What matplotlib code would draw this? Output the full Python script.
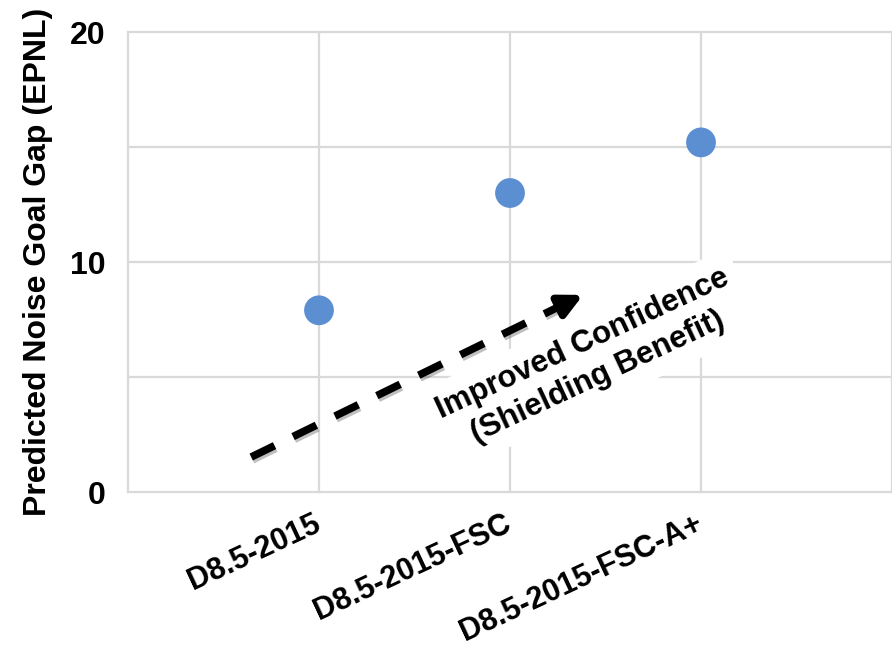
import matplotlib
matplotlib.use("Agg")
import matplotlib.pyplot as plt
import matplotlib.patheffects as pe
import numpy as np

plt.rcParams['font.family'] = ['Liberation Sans', 'DejaVu Sans']
plt.rcParams['font.weight'] = 'bold'

# data
configs = ['D8.5-2015', 'D8.5-2015-FSC', 'D8.5-2015-FSC-A+']
noise_gap = [7.9, 13.0, 15.2]
y_major = [0, 10, 20]
y_minor = [5, 15]

# annotation arrow (data coords)
arrow_start = (0.645, 1.52)
arrow_end = (2.383, 8.57)
note_pos = (2.42, 5.72)
note_text = 'Improved Confidence\n(Shielding Benefit)'

fig = plt.figure(figsize=(8.92, 6.54), dpi=100)
ax = fig.add_axes([128 / 892, 1 - 492 / 654, 764 / 892, 460 / 654])

x = np.arange(1, len(configs) + 1)
ax.scatter(x, noise_gap, s=460, color='#5b8fd2', edgecolors='none', zorder=4)

ax.set_xlim(0, 3.93)
ax.set_ylim(0, 20)
ax.set_xticks([0] + list(x) + [4])
ax.set_xticklabels([''] + configs + [''], fontsize=22, fontweight='bold',
                   rotation=25, ha='right', va='center', rotation_mode='anchor')
ax.set_yticks(y_major)
ax.set_yticks(y_minor, minor=True)
ax.set_yticklabels([str(v) for v in y_major], fontsize=23, fontweight='bold')
ax.tick_params(axis='x', length=0, pad=22)
ax.tick_params(axis='y', which='both', length=0, pad=16)
ax.grid(True, which='both', color='#d9d9d9', linewidth=1.6, zorder=0)
ax.set_axisbelow(True)
ticks = (ax.xaxis.get_major_ticks() + ax.yaxis.get_major_ticks()
         + ax.yaxis.get_minor_ticks())
for tk in ticks:
    tk.gridline.set_clip_on(False)
for sp in ax.spines.values():
    sp.set_visible(False)

ax.set_ylabel('Predicted Noise Goal Gap (EPNL)', fontsize=23, fontweight='bold', labelpad=12)

# text with white box behind it
ax.text(note_pos[0], note_pos[1], note_text, fontsize=22.5, fontweight='bold',
        rotation=25, rotation_mode='anchor', ha='center', va='center',
        multialignment='center', linespacing=1.3, zorder=3,
        bbox=dict(boxstyle='square,pad=0.35', fc='white', ec='none'))

# dashed arrow: dashed shaft + solid head
sx, sy = arrow_start
ex, ey = arrow_end
t = 0.93
hx, hy = sx + (ex - sx) * t, sy + (ey - sy) * t
shadow = [pe.SimpleLineShadow(offset=(1, -2), alpha=0.25), pe.Normal()]
ax.plot([sx, hx], [sy, hy], color='black', linewidth=5.5,
        linestyle=(0, (3.4, 2.7)), solid_capstyle='butt', dash_capstyle='butt',
        zorder=5, path_effects=shadow)
ax.annotate('', xy=arrow_end, xytext=(hx, hy),
            arrowprops=dict(arrowstyle='-|>', color='black', lw=5.5,
                            mutation_scale=34, shrinkA=0, shrinkB=0),
            zorder=5)

fig.savefig('out.png', dpi=100)
